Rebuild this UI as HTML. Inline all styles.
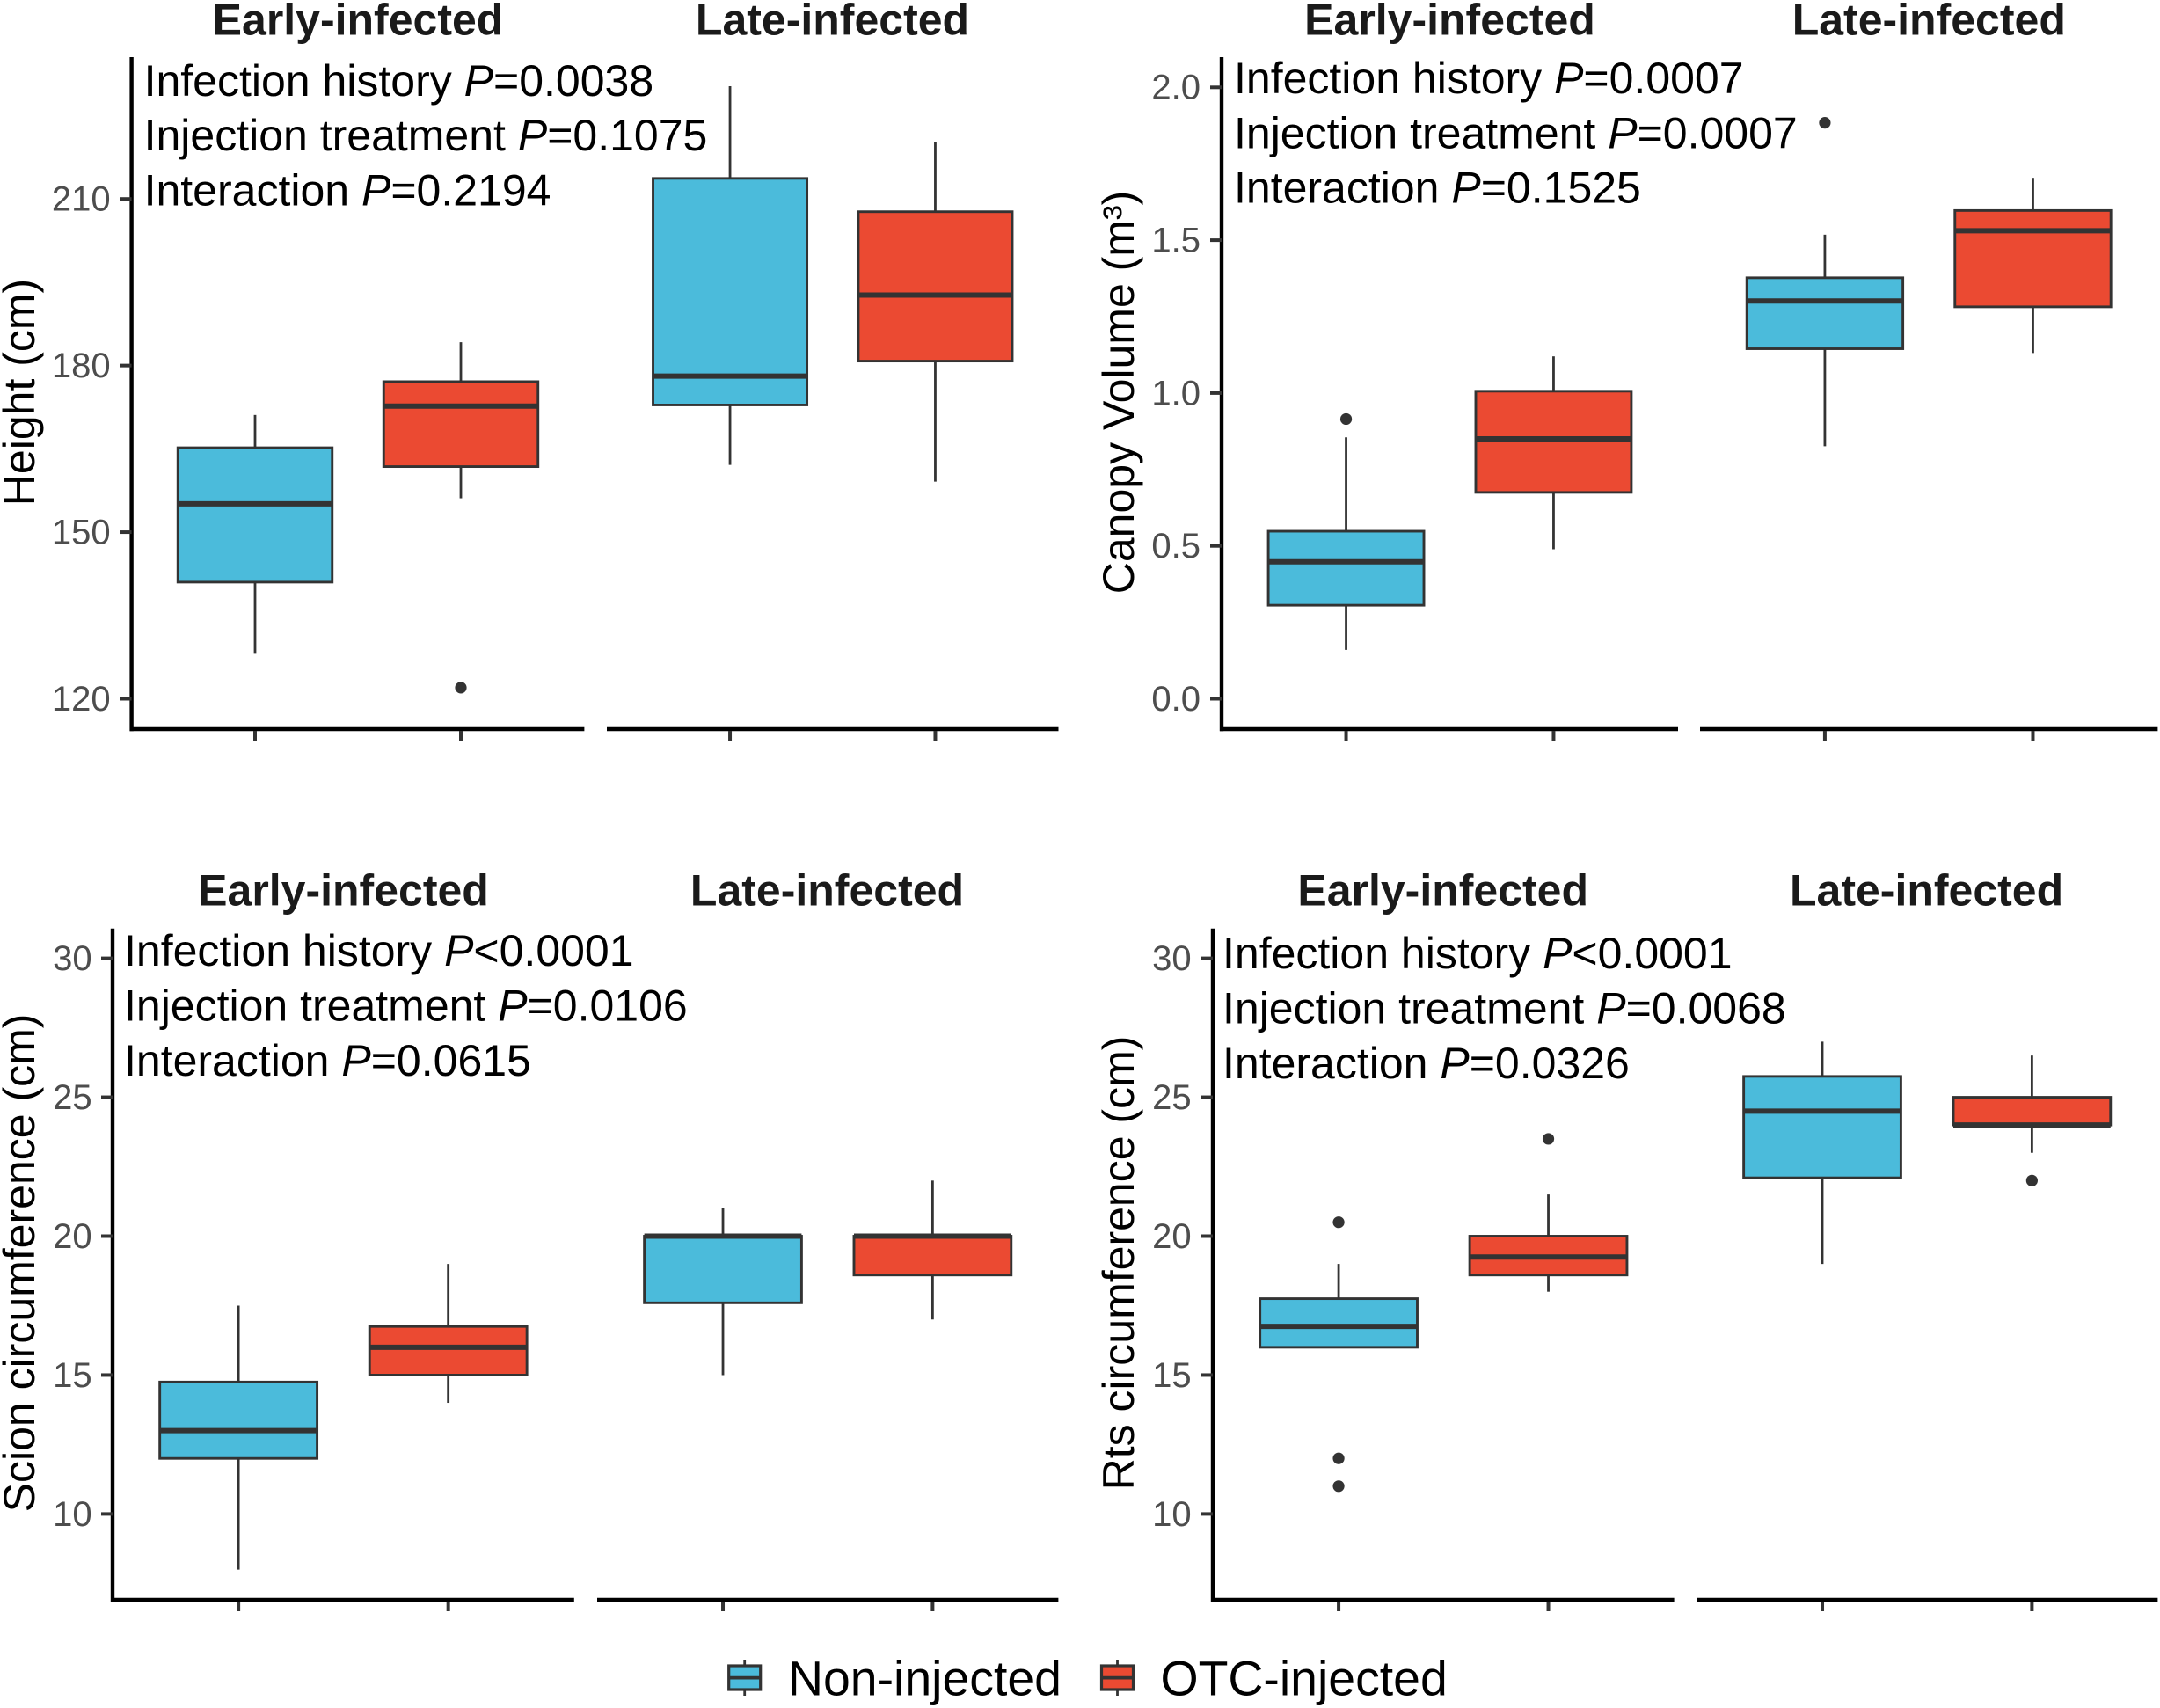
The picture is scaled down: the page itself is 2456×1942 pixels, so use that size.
<!DOCTYPE html>
<html lang="en">
<head>
<meta charset="utf-8">
<title>Boxplots of tree growth by infection history and injection treatment</title>
<style>
html,body{margin:0;padding:0;background:#fff;width:2456px;height:1942px;overflow:hidden}
svg{display:block}
text{font-family:"Liberation Sans",Arial,sans-serif}
.strip{font-size:50px;font-weight:700;fill:#1a1a1a;text-anchor:middle}
.note{font-size:50px;fill:#000}
.note tspan.p{font-style:italic}
.ytitle{font-size:50px;fill:#000;text-anchor:middle}
.legend{font-size:55.4px;fill:#000}
</style>
</head>
<body>
<svg id="chart" xmlns="http://www.w3.org/2000/svg" width="2456" height="1942" viewBox="0 0 2456 1942">
  <rect x="0" y="0" width="2456" height="1942" fill="#fff"/>

  <g>
    <text class="strip" x="407" y="39.5">Early-infected</text>
    <text class="strip" x="946.5" y="39.5">Late-infected</text>
    <text class="ytitle" transform="translate(39 446) rotate(-90)">Height (cm)</text>
  </g>
  <g>
    <text class="strip" x="1648.5" y="39.5">Early-infected</text>
    <text class="strip" x="2193.3" y="39.5">Late-infected</text>
    <text class="ytitle" transform="translate(1289 446) rotate(-90)">Canopy Volume (m³)</text>
  </g>
  <g>
    <text class="strip" x="390.5" y="1029.3">Early-infected</text>
    <text class="strip" x="940.5" y="1029.3">Late-infected</text>
    <text class="ytitle" transform="translate(39 1436) rotate(-90)">Scion circumference (cm)</text>
  </g>
  <g>
    <text class="strip" x="1640.7" y="1029.3">Early-infected</text>
    <text class="strip" x="2190.6" y="1029.3">Late-infected</text>
    <text class="ytitle" transform="translate(1289 1436) rotate(-90)">Rts circumference (cm)</text>
  </g>

  <g id="marks"></g>

  <g>
    <text class="note" x="163.6" y="109">Infection history <tspan class="p">P</tspan>=0.0038</text>
    <text class="note" x="163.6" y="171">Injection treatment <tspan class="p">P</tspan>=0.1075</text>
    <text class="note" x="163.6" y="233.5">Interaction <tspan class="p">P</tspan>=0.2194</text>
  </g>
  <g>
    <text class="note" x="1403" y="106">Infection history <tspan class="p">P</tspan>=0.0007</text>
    <text class="note" x="1403" y="168.4">Injection treatment <tspan class="p">P</tspan>=0.0007</text>
    <text class="note" x="1403" y="230.6">Interaction <tspan class="p">P</tspan>=0.1525</text>
  </g>
  <g>
    <text class="note" x="141" y="1097.8">Infection history <tspan class="p">P</tspan>&lt;0.0001</text>
    <text class="note" x="141" y="1160.4">Injection treatment <tspan class="p">P</tspan>=0.0106</text>
    <text class="note" x="141" y="1223">Interaction <tspan class="p">P</tspan>=0.0615</text>
  </g>
  <g>
    <text class="note" x="1390" y="1100.9">Infection history <tspan class="p">P</tspan>&lt;0.0001</text>
    <text class="note" x="1390" y="1163.5">Injection treatment <tspan class="p">P</tspan>=0.0068</text>
    <text class="note" x="1390" y="1226">Interaction <tspan class="p">P</tspan>=0.0326</text>
  </g>

  <g>
    <g>
      <line x1="846.7" x2="846.7" y1="1887" y2="1928" stroke="#333" stroke-width="2.8"/>
      <rect x="828.7" y="1894" width="36" height="27" fill="#4BBBDB" stroke="#333" stroke-width="3.2"/>
      <line x1="828.7" x2="864.7" y1="1907.6" y2="1907.6" stroke="#333" stroke-width="3.8"/>
      <text class="legend" x="896" y="1927.5">Non-injected</text>
    </g>
    <g>
      <line x1="1270.5" x2="1270.5" y1="1887" y2="1928" stroke="#333" stroke-width="2.8"/>
      <rect x="1252.5" y="1894" width="36" height="27" fill="#EB4A32" stroke="#333" stroke-width="3.2"/>
      <line x1="1252.5" x2="1288.5" y1="1907.6" y2="1907.6" stroke="#333" stroke-width="3.8"/>
      <text class="legend" x="1319.5" y="1927.5">OTC-injected</text>
    </g>
  </g>
</svg>

<script>
// Group order in every stats array: early non-injected, early OTC, late non-injected, late OTC.
// Each box is [lower whisker, Q1, median, Q3, upper whisker].
const groupNames = ['early-non-injected', 'early-otc-injected', 'late-non-injected', 'late-otc-injected'];

const heightTicks = [120, 150, 180, 210];
const heightBoxes = [
  [128.1, 141, 155.1, 165.2, 171.1],
  [156.1, 161.8, 172.7, 177.1, 184.2],
  [162.1, 172.9, 178.1, 213.7, 230.3],
  [159.1, 180.8, 192.7, 207.7, 220.2]
];
const heightOutliers = [[], [122], [], []];

const canopyTicks = [0, 0.5, 1, 1.5, 2];
const canopyTickLabels = ['0.0', '0.5', '1.0', '1.5', '2.0'];
const canopyBoxes = [
  [0.16, 0.306, 0.448, 0.548, 0.855],
  [0.489, 0.675, 0.85, 1.006, 1.12],
  [0.826, 1.145, 1.301, 1.377, 1.518],
  [1.131, 1.282, 1.531, 1.597, 1.704]
];
const canopyOutliers = [[0.915], [], [1.884], []];

const scionTicks = [10, 15, 20, 25, 30];
const scionBoxes = [
  [8, 12, 13, 14.75, 17.5],
  [14, 15, 16, 16.75, 19],
  [15, 17.6, 20, 20, 21],
  [17, 18.6, 20, 20, 22]
];
const scionOutliers = [[], [], [], []];

const rtsTicks = [10, 15, 20, 25, 30];
const rtsBoxes = [
  [16, 16, 16.75, 17.75, 19],
  [18, 18.6, 19.25, 20, 21.5],
  [19, 22.1, 24.5, 25.75, 27],
  [23, 24, 24, 25, 26.5]
];
const rtsOutliers = [[20.5, 12, 11], [23.5], [], [22]];

const NS = 'http://www.w3.org/2000/svg';
const marks = document.getElementById('marks');
const FILLS = ['#4BBBDB', '#EB4A32'];

function line(parent, x1, y1, x2, y2, stroke, width, name) {
  const el = document.createElementNS(NS, 'line');
  el.setAttribute('x1', x1);
  el.setAttribute('y1', y1);
  el.setAttribute('x2', x2);
  el.setAttribute('y2', y2);
  el.setAttribute('stroke', stroke);
  el.setAttribute('stroke-width', width);
  
  
  parent.appendChild(el);
  return el;
}

function drawPanel(id, frame, ticks, tickLabels, boxes, outliers) {
  const g = document.createElementNS(NS, 'g');
  
  
  marks.appendChild(g);

  // y axis function, calibrated on two known tick positions
  const y = function (v) {
    return frame.yA + (v - frame.vA) * (frame.yB - frame.yA) / (frame.vB - frame.vA);
  };
  // discrete x axis function: two categories with 0.6 unit expansion per side
  const x = function (facet, cat) {
    const f = frame.facets[facet];
    const unit = (f[1] - f[0]) / 2.2;
    return f[0] + (0.6 + cat) * unit;
  };
  const boxWidth = function (facet) {
    const f = frame.facets[facet];
    return 0.75 * (f[1] - f[0]) / 2.2;
  };

  line(g, frame.facets[0][0], frame.top, frame.facets[0][0], frame.bottom + 2.2, '#000', 4.4, id + '-y-axis-line');
  line(g, frame.facets[0][0] - 2, frame.bottom, frame.facets[0][1], frame.bottom, '#000', 4.4, id + '-x-axis-line-early');
  line(g, frame.facets[1][0], frame.bottom, frame.facets[1][1], frame.bottom, '#000', 4.4, id + '-x-axis-line-late');

  ticks.forEach(function (v, i) {
    line(g, frame.facets[0][0] - 13, y(v), frame.facets[0][0], y(v), '#333', 4, id + '-y-tick');
    const t = document.createElementNS(NS, 'text');
    t.setAttribute('x', frame.labelRight);
    t.setAttribute('y', y(v) + 13.4);
    t.setAttribute('text-anchor', 'end');
    t.setAttribute('font-size', '40');
    t.setAttribute('fill', '#4d4d4d');
    
    
    t.textContent = tickLabels ? tickLabels[i] : String(v);
    g.appendChild(t);
  });

  boxes.forEach(function (b, i) {
    const facet = i < 2 ? 0 : 1;
    const cat = i % 2;
    const cx = x(facet, cat);
    const w = boxWidth(facet);
    const name = id + '-' + groupNames[i];

    line(g, cx, y(b[3]), cx, y(b[4]), '#333', 2.8, name + '-upper-whisker');
    line(g, cx, y(b[1]), cx, y(b[0]), '#333', 2.8, name + '-lower-whisker');

    const r = document.createElementNS(NS, 'rect');
    r.setAttribute('x', cx - w / 2);
    r.setAttribute('y', y(b[3]));
    r.setAttribute('width', w);
    r.setAttribute('height', y(b[1]) - y(b[3]));
    r.setAttribute('fill', FILLS[cat]);
    r.setAttribute('stroke', '#333');
    r.setAttribute('stroke-width', 2.9);
    
    
    g.appendChild(r);

    line(g, cx - w / 2, y(b[2]), cx + w / 2, y(b[2]), '#333', 6, name + '-median');

    outliers[i].forEach(function (v) {
      const c = document.createElementNS(NS, 'circle');
      c.setAttribute('cx', cx);
      c.setAttribute('cy', y(v));
      c.setAttribute('r', 6.6);
      c.setAttribute('fill', '#333');
      
      
      g.appendChild(c);
    });

    line(g, cx, frame.bottom + 2, cx, frame.bottom + 13, '#333', 4, name + '-x-tick');
  });
}

drawPanel('height',
  { facets: [[149.6, 664.4], [690, 1203.5]], top: 65, bottom: 829, labelRight: 125.6, vA: 120, yA: 794.5, vB: 210, yB: 226.2 },
  heightTicks, null, heightBoxes, heightOutliers);
drawPanel('canopy',
  { facets: [[1389, 1908], [1933, 2453.4]], top: 65, bottom: 829, labelRight: 1365, vA: 0, yA: 794.5, vB: 2, yB: 99.3 },
  canopyTicks, canopyTickLabels, canopyBoxes, canopyOutliers);
drawPanel('scion',
  { facets: [[128, 652.8], [679, 1203.4]], top: 1055.8, bottom: 1819, labelRight: 104.6, vA: 10, yA: 1721.4, vB: 30, yB: 1089.6 },
  scionTicks, null, scionBoxes, scionOutliers);
drawPanel('rts',
  { facets: [[1379, 1903.6], [1929, 2453.4]], top: 1055.8, bottom: 1819, labelRight: 1354.6, vA: 10, yA: 1721.4, vB: 30, yB: 1089.6 },
  rtsTicks, null, rtsBoxes, rtsOutliers);
</script>
</body>
</html>
